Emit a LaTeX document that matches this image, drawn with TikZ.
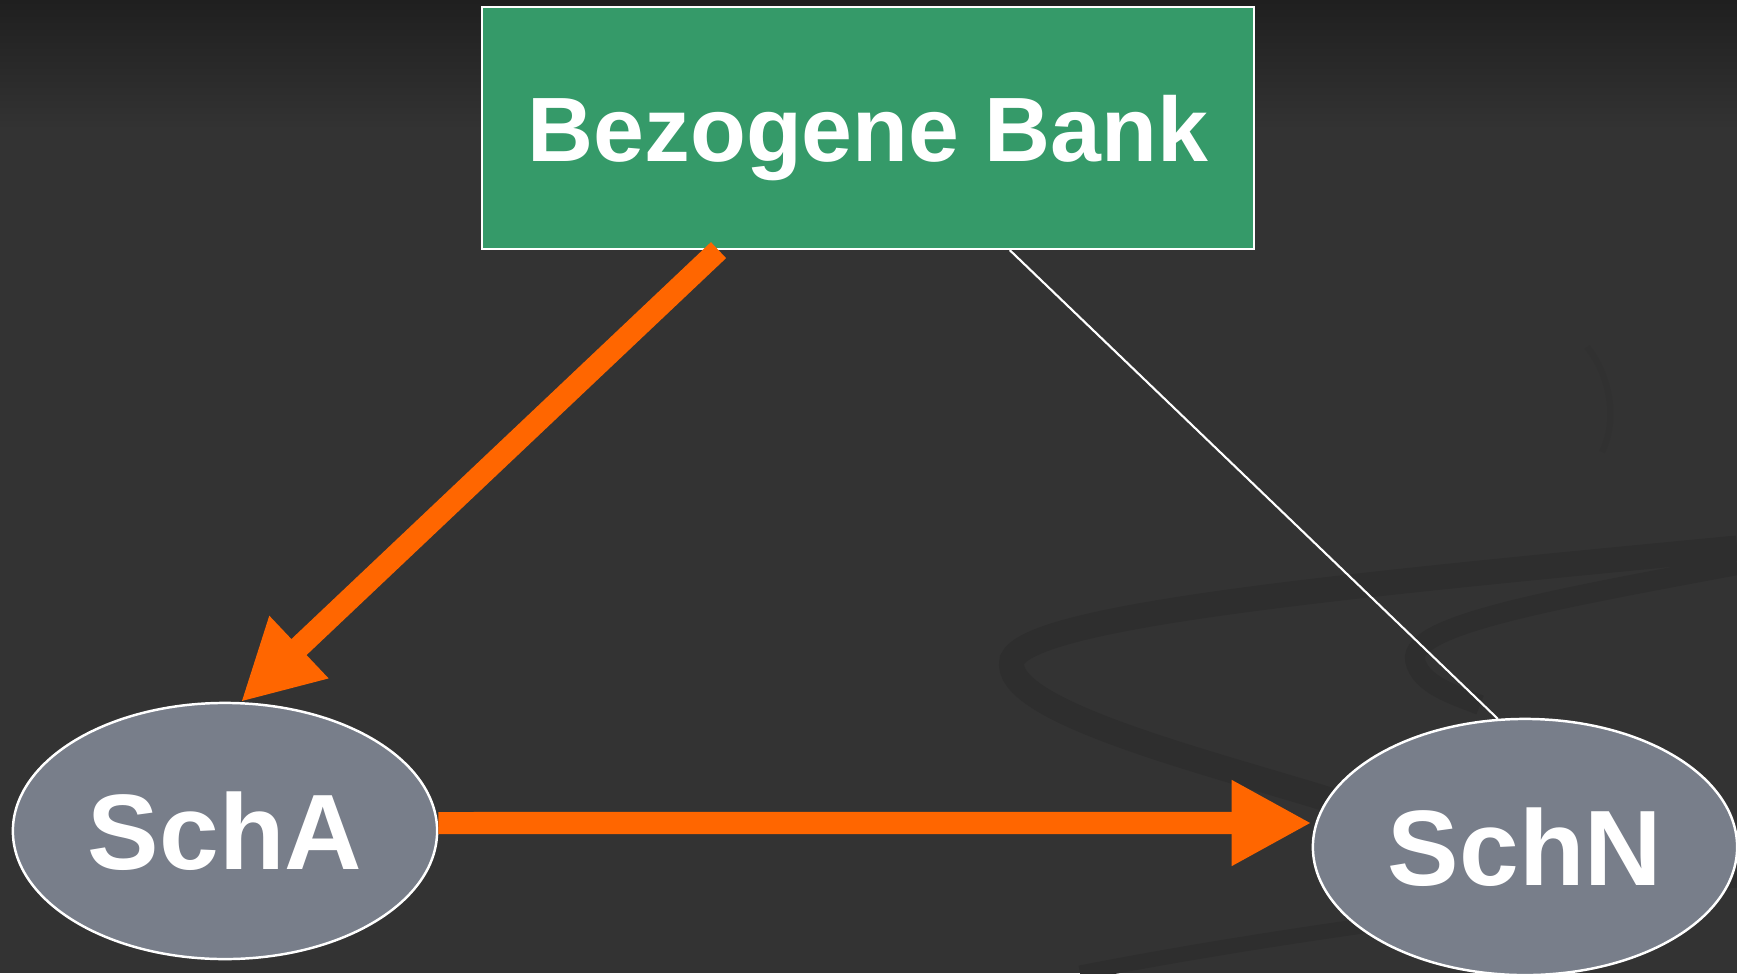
\documentclass[tikz,border=0pt]{standalone}
\usepackage{fontspec}
\setmainfont{Liberation Sans}
\usetikzlibrary{arrows.meta,shapes.geometric,calc}

\definecolor{bggray}{HTML}{333333}
\definecolor{bgtop}{HTML}{1F1F1F}
\definecolor{swirl}{HTML}{2E2E2E}
\definecolor{bankgreen}{HTML}{359A69}
\definecolor{partygray}{HTML}{787E8A}
\definecolor{arroworange}{HTML}{FF6600}

\tikzset{
	bankbox/.style={draw=white, line width=0.6pt, fill=bankgreen, text=white,
		minimum width=7.72cm, minimum height=2.42cm, inner sep=0pt, text depth=0pt,
		font=\fontsize{26}{30}\selectfont\bfseries},
	party/.style={ellipse, draw=white, line width=0.7pt, fill=partygray, text=white,
		minimum width=4.24cm, minimum height=2.56cm, inner sep=0pt,
		font=\fontsize{30.5}{36}\selectfont\bfseries},
	fatarrow/.style={arroworange, line width=0.22cm,
		-{Triangle[length=0.8cm, width=0.8cm]}},
}

\begin{document}
\begin{tikzpicture}[x=0.01cm, y=-0.01cm]
		% Hintergrund
		\fill[bggray] (0, 0) rectangle (1737, 973);
		\shade[top color=bgtop, bottom color=bggray] (0, 0) rectangle (1737, 130);
		\useasboundingbox (0, 0) rectangle (1737, 973);
		
		% Schwünge im Hintergrund
		\draw[swirl, line width=0.25cm] (1737, 548) .. controls (1350, 585) and (1030, 615) .. (1012, 660)
			.. controls (1000, 710) and (1200, 760) .. (1330, 800);
		\draw[swirl, line width=0.2cm] (1737, 565) .. controls (1550, 600) and (1410, 625) .. (1415, 660)
			.. controls (1420, 685) and (1455, 695) .. (1480, 705);
		\draw[swirl!40!bggray, line width=0.06cm] (1587, 347) .. controls (1610, 375) and (1618, 420) .. (1602, 452);
		\draw[swirl, line width=0.15cm] (1080, 973) .. controls (1300, 930) and (1550, 900) .. (1737, 880);
		
		\node[bankbox] (bank) at (868, 128) {Bezogene Bank};
		\node[party] (scha) at (225, 831) {SchA};
		\node[party] (schn) at (1525, 847) {SchN};
		
		\coordinate (bankL) at ($(bank.south west)!0.307!(bank.south east)$);
		\coordinate (bankR) at ($(bank.south west)!0.683!(bank.south east)$);
		
		\draw[white, line width=0.6pt] (bankR) -- (schn.102);
		\draw[fatarrow] (bankL) -- (scha.83);
		\draw[fatarrow] ([yshift=0.08cm]scha.east) -- ([yshift=0.24cm]schn.west);
	\end{tikzpicture}
\end{document}
